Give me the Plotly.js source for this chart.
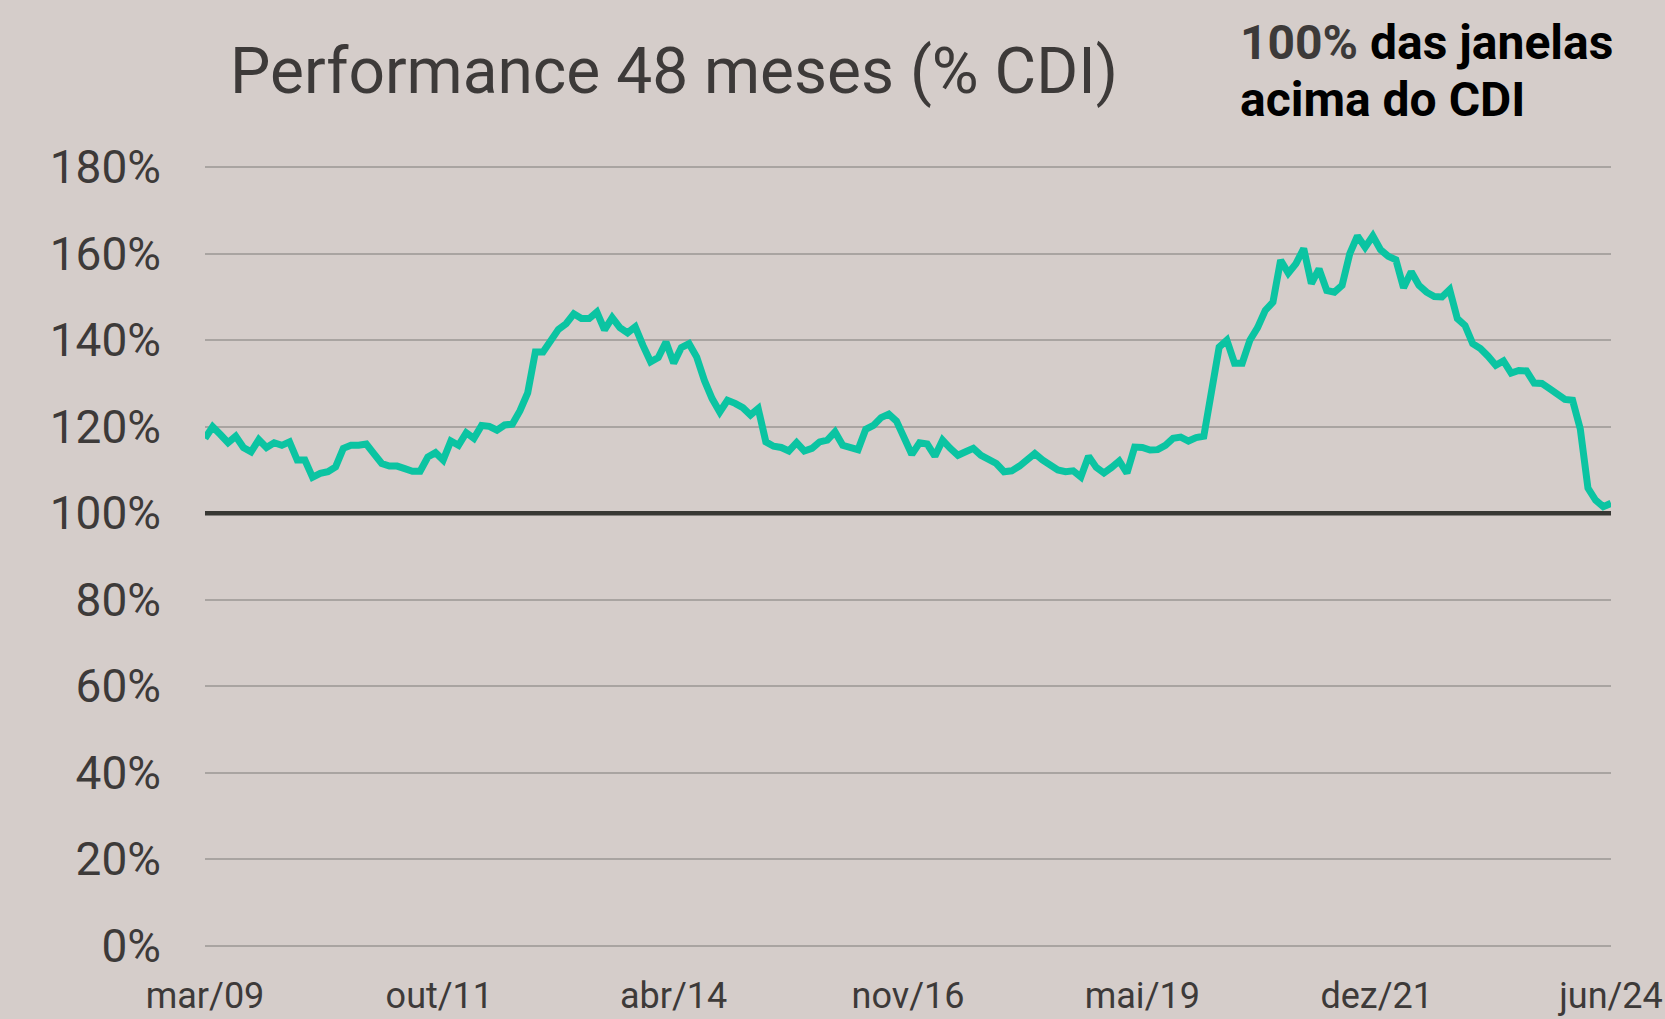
<!DOCTYPE html>
<html>
<head>
<meta charset="utf-8">
<script src="https://cdn.plot.ly/plotly-3.0.1.min.js"></script>
<style>
html,body{margin:0;padding:0;background:#d5cdca;}
#chart{width:1665px;height:1019px;}
</style>
</head>
<body>
<div id="chart"></div>
<script>
// Monthly 48-month rolling performance (% of CDI), mar/09 .. jun/24
const performancePct = [
  117.3,120.0,118.2,116.3,117.8,115.2,114.2,117.0,115.2,116.3,
  115.7,116.5,112.3,112.3,108.3,109.2,109.6,110.7,115.0,115.7,
  115.7,116.0,113.7,111.5,110.9,110.9,110.3,109.7,109.7,113.0,
  114.0,112.3,116.7,115.7,118.6,117.3,120.3,120.1,119.2,120.4,
  120.6,123.7,127.8,137.3,137.3,140.0,142.5,143.8,146.1,145.0,
  145.0,146.5,142.4,145.2,142.9,141.7,143.1,138.8,135.0,136.0,
  139.6,134.7,138.3,139.2,136.1,130.7,126.5,123.4,126.1,125.4,
  124.4,122.7,124.2,116.5,115.5,115.2,114.4,116.3,114.4,115.0,
  116.5,116.9,118.8,115.7,115.3,114.7,119.4,120.3,122.1,122.9,
  121.3,117.3,113.6,116.3,116.0,113.2,116.9,115.0,113.4,114.2,
  115.0,113.4,112.3,111.5,109.6,109.8,110.9,112.3,113.8,112.3,
  110.9,110.0,109.6,109.8,108.4,113.2,110.6,109.3,110.6,112.1,
  109.3,115.3,115.2,114.6,114.7,115.7,117.3,117.6,116.7,117.5,
  117.8,128.0,138.4,140.0,134.7,134.7,140.0,142.9,146.9,148.8,
  158.5,155.5,157.7,161.2,153.1,156.5,151.5,151.1,152.7,160.0,
  164.1,161.5,164.1,160.9,159.4,158.6,152.1,155.8,152.7,151.1,
  150.1,150.0,151.7,145.0,143.4,139.2,138.1,136.3,134.2,135.2,
  132.4,133.0,132.9,130.1,130.0,128.8,127.5,126.3,126.1,119.5,
  105.8,103.0,101.5,102.3
];
const monthIndex = performancePct.map((_, i) => i);
const xTickPositions = [0, 30.5, 61, 91.5, 122, 152.5, 183];
const xTickLabels = ["mar/09", "out/11", "abr/14", "nov/16", "mai/19", "dez/21", "jun/24"];
const yTickValues = [0, 20, 40, 60, 80, 100, 120, 140, 160, 180];
const yTickLabels = yTickValues.map(v => v + "%");
const cdiReference = 100;
const chartTitle = "Performance 48 meses (% CDI)";
const noteLine1 = "<span style='color:#3d3a39'>100%</span> das janelas";
const noteLine2 = "acima do CDI";

const xFirst = monthIndex[0];
const xLast = monthIndex[monthIndex.length - 1];

const refTrace = {
  x: [xFirst, xLast],
  y: [cdiReference, cdiReference],
  type: "scatter",
  mode: "lines",
  line: {color: "#383834", width: 4.5},
  hoverinfo: "skip",
  cliponaxis: false
};

const trace = {
  x: monthIndex,
  y: performancePct,
  type: "scatter",
  mode: "lines",
  line: {color: "#0bc4a2", width: 7},
  hoverinfo: "y"
};

const layout = {
  width: 1665,
  height: 1019,
  paper_bgcolor: "#d5cdca",
  plot_bgcolor: "#d5cdca",
  margin: {l: 205, r: 54, t: 164.8, b: 70.8},
  showlegend: false,
  font: {family: "Roboto, sans-serif", color: "#3d3a39"},
  title: {
    text: chartTitle,
    font: {family: "Roboto, sans-serif", size: 64, color: "#3d3a39"},
    x: 674 / 1665, xanchor: "center", xref: "container",
    y: 1 - 71 / 1019, yanchor: "middle", yref: "container"
  },
  xaxis: {
    range: [0, 183],
    showgrid: false,
    zeroline: false,
    showline: false,
    tickmode: "array",
    tickvals: xTickPositions,
    ticktext: xTickLabels,
    ticks: "",
    ticklabelstandoff: 23,
    tickfont: {family: "Roboto, sans-serif", size: 36, color: "#3d3a39"},
    fixedrange: true
  },
  yaxis: {
    range: [-0.5, 180.5],
    tickmode: "array",
    tickvals: yTickValues,
    ticktext: yTickLabels,
    showgrid: true,
    gridcolor: "#a9a4a1",
    gridwidth: 2.3,
    zeroline: false,
    showline: false,
    ticks: "",
    ticklabelstandoff: 43,
    tickfont: {family: "Roboto, sans-serif", size: 46, color: "#3d3a39"},
    fixedrange: true
  },
  annotations: [
    {
      text: noteLine1, xref: "paper", yref: "paper",
      x: (1238 - 205) / 1406, y: (946.2 - 43) / 781,
      xanchor: "left", yanchor: "middle", showarrow: false,
      font: {family: "Roboto, sans-serif", size: 48, color: "#000000", weight: "bold"}
    },
    {
      text: noteLine2, xref: "paper", yref: "paper",
      x: (1238 - 205) / 1406, y: (946.2 - 100) / 781,
      xanchor: "left", yanchor: "middle", showarrow: false,
      font: {family: "Roboto, sans-serif", size: 48, color: "#000000", weight: "bold"}
    }
  ]
};

Plotly.newPlot("chart", [refTrace, trace], layout, {displayModeBar: false, staticPlot: true});
</script>
</body>
</html>
